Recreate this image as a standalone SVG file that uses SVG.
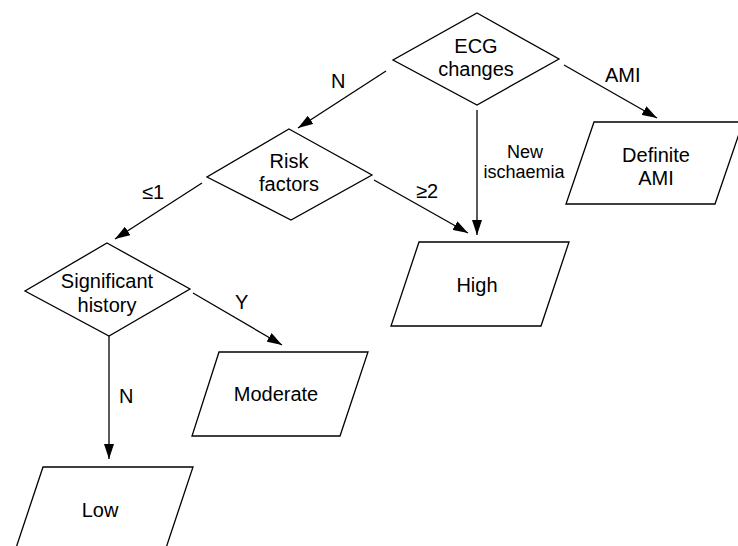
<svg xmlns="http://www.w3.org/2000/svg" width="738" height="546" viewBox="0 0 738 546">
<defs>
<style>
.shape{fill:#fff;stroke:#000;stroke-width:1.3;stroke-linejoin:miter}
.conn{fill:none;stroke:#000;stroke-width:1.3;marker-end:url(#arrow)}
text{font-family:"Liberation Sans",Arial,sans-serif;fill:#000}
.t{font-size:20px;text-anchor:middle}
.lbl{font-size:20px}
.sm{font-size:18px;text-anchor:middle}
</style>
<marker id="arrow" markerUnits="userSpaceOnUse" markerWidth="15" markerHeight="10" refX="15" refY="5" orient="auto">
<path d="M0,0 L15,5 L0,10 z" fill="#000"/>
</marker>
</defs>
<rect width="738" height="546" fill="#fff"/>
<g id="connectors">
<line class="conn" x1="386" y1="71" x2="298" y2="128"/>
<line class="conn" x1="564" y1="65" x2="657" y2="118"/>
<line class="conn" x1="477" y1="110" x2="477" y2="235"/>
<line class="conn" x1="374" y1="180" x2="468" y2="233"/>
<line class="conn" x1="202" y1="183" x2="115" y2="239"/>
<line class="conn" x1="193" y1="293" x2="282" y2="345"/>
<line class="conn" x1="109" y1="336" x2="109" y2="459"/>
<text class="lbl" x="331" y="88">N</text>
<text class="lbl" x="605" y="82">AMI</text>
<text class="sm" x="525" y="158">New</text>
<text class="sm" x="524" y="178">ischaemia</text>
<text class="lbl" x="416" y="198">≥2</text>
<text class="lbl" x="142" y="199">≤1</text>
<text class="lbl" x="235" y="309">Y</text>
<text class="lbl" x="119" y="403">N</text>
</g>
<g id="ecg">
<polygon class="shape" points="477,13 559,59 477,105 393,60"/>
<text class="t" x="476" y="53">ECG</text>
<text class="t" x="476" y="76">changes</text>
</g>
<g id="risk">
<polygon class="shape" points="289,129 372,175 291,220 207,177"/>
<text class="t" x="289" y="168">Risk</text>
<text class="t" x="289" y="191">factors</text>
</g>
<g id="significant">
<polygon class="shape" points="107,243 190,289 109,336 25,291"/>
<text class="t" x="107" y="288">Significant</text>
<text class="t" x="107" y="312">history</text>
</g>
<g id="definite">
<polygon class="shape" points="594,122 743,122 715,204 566,204"/>
<text class="t" x="656" y="162">Definite</text>
<text class="t" x="656" y="185">AMI</text>
</g>
<g id="high">
<polygon class="shape" points="419,242 569,242 541,326 391,326"/>
<text class="t" x="477" y="292">High</text>
</g>
<g id="moderate">
<polygon class="shape" points="219,352 368,352 340,436 192,436"/>
<text class="t" x="276" y="401">Moderate</text>
</g>
<g id="low">
<polygon class="shape" points="43,467 193,467 165,551 15,551"/>
<text class="t" x="100" y="517">Low</text>
</g>
</svg>
